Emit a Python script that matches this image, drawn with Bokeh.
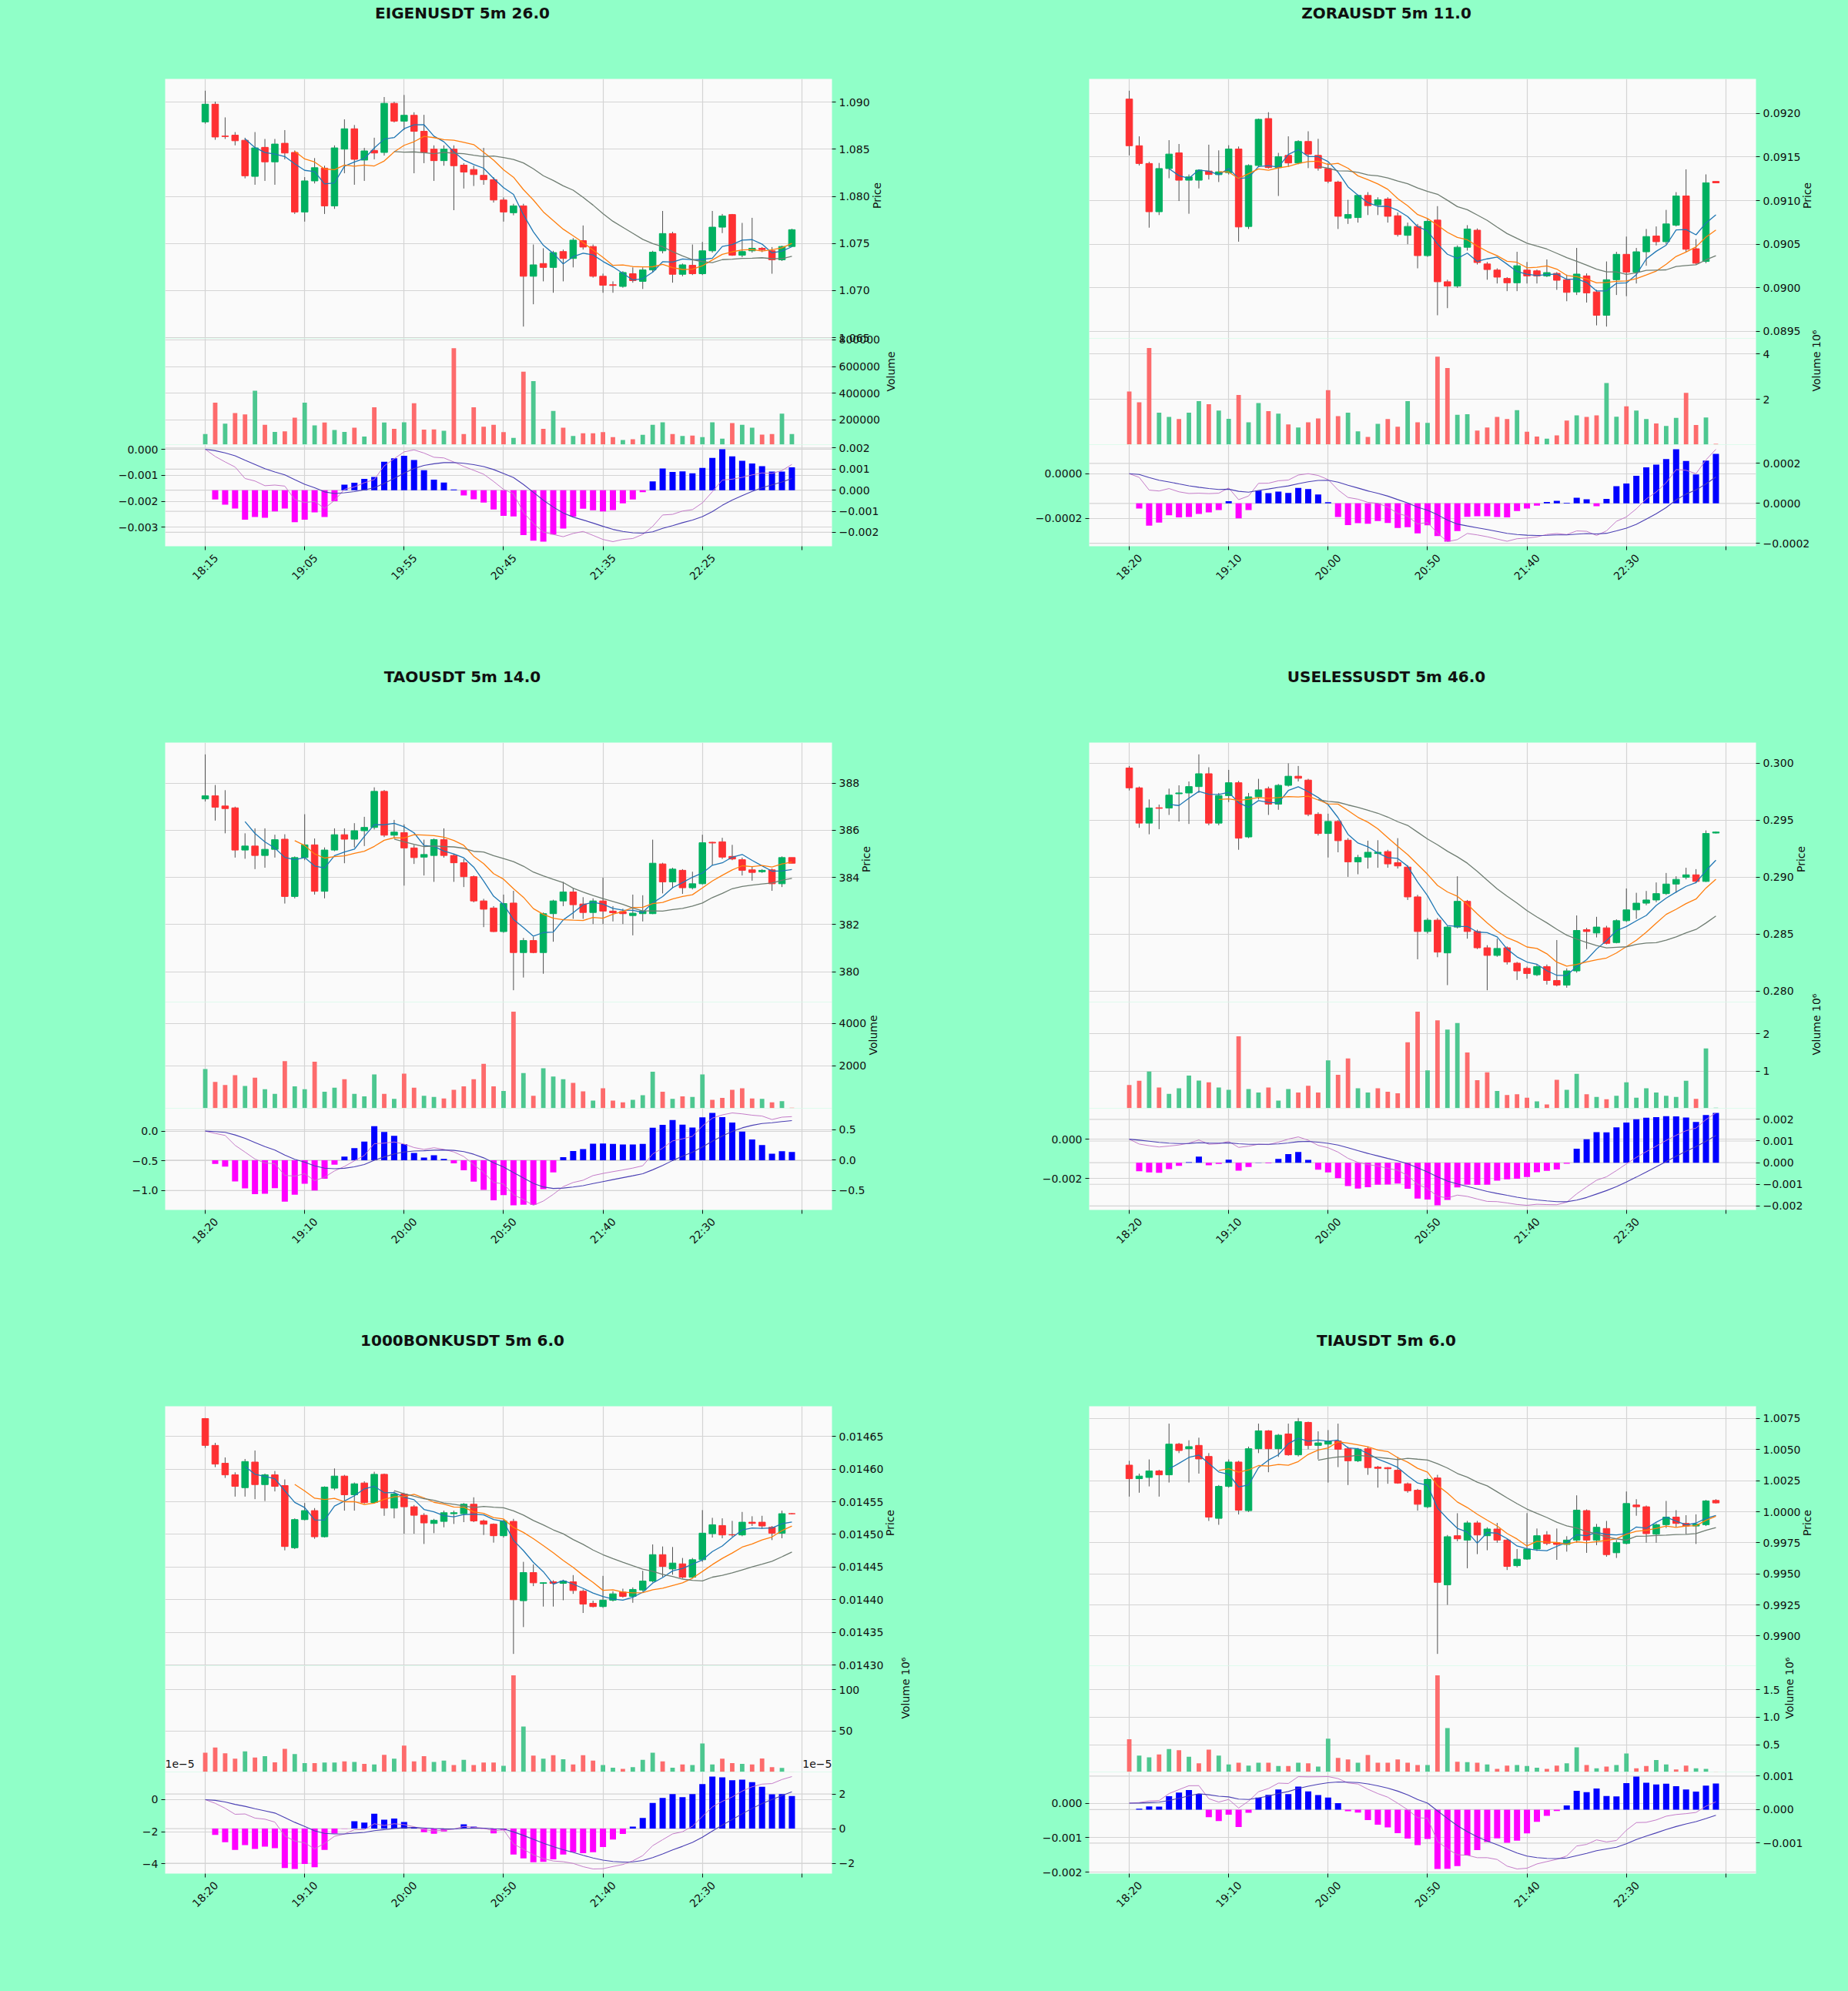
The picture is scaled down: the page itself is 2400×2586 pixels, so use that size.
import math
import numpy as np
import pandas as pd
from bokeh.plotting import figure
from bokeh.layouts import column, row
from bokeh.models import (Range1d, LinearAxis, FixedTicker, CustomJSTickFormatter,
                          Span, Label, ColumnDataSource)
from bokeh.core.properties import value
from bokeh.embed import file_html
from bokeh.resources import INLINE

# ------------------------------------------------------------------ data
TITLES = ["EIGENUSDT 5m 26.0", "ZORAUSDT 5m 11.0", "TAOUSDT 5m 14.0",
          "USELESSUSDT 5m 46.0", "1000BONKUSDT 5m 6.0", "TIAUSDT 5m 6.0"]

X_LABELS_EIGEN = ["18:15", "19:05", "19:55", "20:45", "21:35", "22:25", ""]
X_LABELS_OTHER = ["18:20", "19:10", "20:00", "20:50", "21:40", "22:30", ""]

EIGEN_OPEN = [1.08790, 1.08978, 1.08640, 1.08649, 1.08595, 1.08212, 1.08520, 1.08366, 1.08563, 1.08466,
              1.07834, 1.08164, 1.08299, 1.07899, 1.08501, 1.08717, 1.08385, 1.08487, 1.08466, 1.08987,
              1.08798, 1.08860, 1.08690, 1.08501, 1.08379, 1.08501, 1.08331, 1.08285, 1.08223, 1.08177,
              1.07961, 1.07826, 1.07899, 1.07152, 1.07287, 1.07246, 1.07414, 1.07341, 1.07530, 1.07468,
              1.07152, 1.07062, 1.07044, 1.07179, 1.07098, 1.07219, 1.07422, 1.07605, 1.07173, 1.07268,
              1.07179, 1.07422, 1.07673, 1.07807, 1.07376, 1.07422, 1.07449, 1.07422, 1.07327, 1.07468]
EIGEN_HIGH = [1.09121, 1.09005, 1.08838, 1.08682, 1.08622, 1.08682, 1.08609, 1.08609, 1.08703, 1.08487,
              1.08204, 1.08406, 1.08325, 1.08541, 1.08817, 1.08757, 1.08514, 1.08622, 1.09054, 1.09005,
              1.09076, 1.08892, 1.08865, 1.08541, 1.08541, 1.08541, 1.08352, 1.08325, 1.08514, 1.08204,
              1.07988, 1.07921, 1.07921, 1.07489, 1.07449, 1.07422, 1.07435, 1.07557, 1.07691, 1.07489,
              1.07180, 1.07098, 1.07206, 1.07246, 1.07246, 1.07422, 1.07845, 1.07624, 1.07287, 1.07489,
              1.07516, 1.07845, 1.07813, 1.07813, 1.07718, 1.07772, 1.07462, 1.07462, 1.07476, 1.07656]
EIGEN_LOW = [1.08771, 1.08600, 1.08609, 1.08541, 1.08191, 1.08123, 1.08164, 1.08123, 1.08393, 1.07813,
             1.07732, 1.08137, 1.07813, 1.07867, 1.08245, 1.08123, 1.08164, 1.08393, 1.08433, 1.08784,
             1.08703, 1.08245, 1.08352, 1.08164, 1.08325, 1.07853, 1.08083, 1.08110, 1.08123, 1.07934,
             1.07732, 1.07799, 1.06618, 1.06855, 1.07098, 1.06977, 1.07098, 1.07246, 1.07435, 1.07138,
             1.06977, 1.06977, 1.07030, 1.07084, 1.07017, 1.07192, 1.07395, 1.07084, 1.07152, 1.07165,
             1.07165, 1.07403, 1.07610, 1.07368, 1.07354, 1.07403, 1.07408, 1.07179, 1.07314, 1.07462]
EIGEN_CLOSE = [1.08978, 1.08630, 1.08635, 1.08590, 1.08218, 1.08514, 1.08366, 1.08555, 1.08460, 1.07834,
               1.08164, 1.08304, 1.07899, 1.08514, 1.08717, 1.08393, 1.08482, 1.08460, 1.08987, 1.08798,
               1.08860, 1.08690, 1.08466, 1.08379, 1.08501, 1.08325, 1.08258, 1.08231, 1.08177, 1.07961,
               1.07834, 1.07899, 1.07152, 1.07273, 1.07246, 1.07403, 1.07341, 1.07535, 1.07462, 1.07152,
               1.07057, 1.07055, 1.07192, 1.07106, 1.07219, 1.07408, 1.07605, 1.07173, 1.07273, 1.07179,
               1.07422, 1.07673, 1.07791, 1.07376, 1.07414, 1.07449, 1.07435, 1.07327, 1.07468, 1.07646]
EIGEN_VOLUME = [94000, 329000, 172000, 251000, 241000, 418000, 163000, 110000, 114000, 216000,
                329000, 159000, 180000, 124000, 110000, 141000, 75000, 294000, 180000, 133000,
                182000, 325000, 127000, 129000, 118000, 737000, 94000, 294000, 149000, 163000,
                108000, 65000, 561000, 490000, 133000, 267000, 141000, 80000, 100000, 100000,
                108000, 71000, 49000, 55000, 88000, 163000, 182000, 94000, 80000, 82000,
                71000, 182000, 59000, 176000, 163000, 141000, 90000, 94000, 247000, 94000]

ZORA_OPEN = [0.092166, 0.091630, 0.091426, 0.090872, 0.091368, 0.091548, 0.091234, 0.091234, 0.091339, 0.091298,
             0.091321, 0.091592, 0.090703, 0.091403, 0.091942, 0.091379, 0.091519, 0.091432, 0.091679, 0.091519,
             0.091368, 0.091213, 0.090799, 0.090805, 0.091059, 0.090951, 0.091018, 0.090826, 0.090601, 0.090703,
             0.090368, 0.090776, 0.090068, 0.090018, 0.090464, 0.090660, 0.090272, 0.090202, 0.090106, 0.090056,
             0.090202, 0.090193, 0.090135, 0.090164, 0.090091, 0.089951, 0.090135, 0.089951, 0.089683, 0.090091,
             0.090383, 0.090179, 0.090412, 0.090593, 0.090528, 0.090718, 0.091053, 0.090447, 0.090301, 0.091220]
ZORA_HIGH = [0.092262, 0.091738, 0.091446, 0.091432, 0.091694, 0.091650, 0.091300, 0.091359, 0.091642, 0.091577,
             0.091636, 0.091621, 0.091417, 0.091942, 0.092015, 0.091548, 0.091738, 0.091694, 0.091796, 0.091709,
             0.091432, 0.091228, 0.091009, 0.091068, 0.091097, 0.091038, 0.091038, 0.090864, 0.090747, 0.090732,
             0.090791, 0.090936, 0.090091, 0.090485, 0.090718, 0.090680, 0.090295, 0.090222, 0.090121, 0.090412,
             0.090295, 0.090208, 0.090324, 0.090179, 0.090150, 0.090456, 0.090164, 0.089975, 0.090301, 0.090412,
             0.090587, 0.090456, 0.090674, 0.090703, 0.090893, 0.091097, 0.091359, 0.090558, 0.091301, 0.091220]
ZORA_LOW = [0.091519, 0.091403, 0.090689, 0.090834, 0.091257, 0.090995, 0.090849, 0.091140, 0.091242, 0.091213,
            0.091300, 0.090528, 0.090674, 0.091388, 0.091368, 0.091053, 0.091388, 0.091417, 0.091373, 0.091344,
            0.091199, 0.090674, 0.090732, 0.090747, 0.090834, 0.090834, 0.090747, 0.090587, 0.090499, 0.090222,
            0.090354, 0.089683, 0.089765, 0.089998, 0.090426, 0.090266, 0.090091, 0.090048, 0.089960, 0.089960,
            0.090048, 0.090048, 0.090121, 0.089975, 0.089844, 0.089916, 0.089829, 0.089567, 0.089553, 0.089916,
            0.089902, 0.090048, 0.090252, 0.090485, 0.090499, 0.090703, 0.090412, 0.090266, 0.090281, 0.091204]
ZORA_CLOSE = [0.091630, 0.091426, 0.090872, 0.091368, 0.091534, 0.091234, 0.091272, 0.091350, 0.091300, 0.091330,
              0.091592, 0.090697, 0.091403, 0.091933, 0.091379, 0.091505, 0.091432, 0.091679, 0.091534, 0.091373,
              0.091222, 0.090820, 0.090840, 0.091059, 0.090942, 0.091009, 0.090820, 0.090610, 0.090703, 0.090368,
              0.090762, 0.090068, 0.090018, 0.090464, 0.090674, 0.090289, 0.090208, 0.090121, 0.090056, 0.090252,
              0.090135, 0.090135, 0.090173, 0.090085, 0.089946, 0.090156, 0.089940, 0.089683, 0.090091, 0.090383,
              0.090179, 0.090412, 0.090587, 0.090528, 0.090732, 0.091053, 0.090441, 0.090281, 0.091204, 0.091204]
ZORA_VOLUME_M = [2.35, 1.88, 4.26, 1.42, 1.23, 1.14, 1.42, 1.93, 1.79, 1.51,
                 1.15, 2.20, 1.00, 1.84, 1.49, 1.38, 0.90, 0.77, 1.00, 1.17,
                 2.41, 1.27, 1.42, 0.60, 0.35, 0.93, 1.14, 0.80, 1.93, 1.00,
                 0.97, 3.88, 3.38, 1.33, 1.35, 0.63, 0.77, 1.23, 1.14, 1.53,
                 0.58, 0.37, 0.28, 0.42, 1.07, 1.30, 1.23, 1.30, 2.72, 1.24,
                 1.70, 1.51, 1.14, 0.95, 0.84, 1.19, 2.29, 0.88, 1.21, 0.05]

TAO_OPEN = [387.33, 387.46, 387.03, 386.95, 385.16, 385.33, 384.93, 385.19, 385.62, 383.19,
            384.84, 385.38, 383.41, 385.16, 385.81, 385.62, 385.98, 386.12, 387.65, 385.79,
            385.90, 385.25, 384.86, 384.93, 385.60, 384.93, 384.62, 384.03, 383.00, 382.70,
            381.70, 382.91, 380.81, 381.32, 380.81, 382.46, 383.00, 383.38, 382.87, 382.51,
            383.00, 382.57, 382.55, 382.38, 382.46, 382.46, 384.57, 383.81, 384.30, 383.56,
            383.73, 385.49, 385.51, 384.89, 384.75, 384.32, 384.24, 384.32, 383.73, 384.84]
TAO_HIGH = [389.22, 387.92, 387.70, 387.00, 385.87, 386.08, 386.08, 385.81, 385.83, 384.89,
            386.68, 385.65, 385.27, 386.08, 386.08, 386.30, 386.57, 387.82, 387.71, 386.44,
            386.25, 385.38, 385.60, 385.65, 386.08, 385.00, 384.78, 384.08, 383.09, 382.78,
            383.27, 383.43, 381.43, 381.48, 382.51, 383.05, 383.81, 383.54, 383.16, 383.11,
            383.99, 382.78, 382.67, 383.27, 383.24, 385.60, 384.62, 384.41, 384.35, 384.24,
            385.81, 385.51, 385.68, 385.38, 384.84, 384.46, 384.35, 384.38, 384.89, 384.84]
TAO_LOW = [387.22, 386.41, 385.87, 384.84, 384.79, 384.35, 384.41, 384.84, 382.89, 383.11,
           384.73, 383.27, 383.11, 385.11, 384.60, 385.27, 385.33, 386.03, 385.71, 385.65,
           383.65, 384.57, 384.08, 383.81, 384.84, 383.81, 383.59, 382.94, 381.89, 381.68,
           381.65, 379.21, 379.75, 380.78, 379.91, 381.27, 382.78, 382.24, 382.24, 382.02,
           382.02, 382.13, 382.02, 381.54, 382.13, 382.44, 383.32, 383.54, 383.30, 383.49,
           383.70, 384.51, 384.78, 384.73, 384.08, 383.86, 384.19, 383.43, 383.59, 384.60]
TAO_CLOSE = [387.46, 386.98, 386.92, 385.16, 385.33, 384.93, 385.19, 385.60, 383.19, 384.84,
             385.38, 383.41, 385.16, 385.81, 385.62, 385.98, 386.12, 387.65, 385.79, 385.92,
             385.25, 384.84, 384.97, 385.60, 384.93, 384.62, 384.03, 383.00, 382.65, 381.70,
             382.89, 380.81, 381.32, 380.81, 382.46, 383.00, 383.38, 382.84, 382.51, 383.00,
             382.57, 382.50, 382.46, 382.48, 382.57, 384.60, 383.81, 384.35, 383.56, 383.73,
             385.47, 385.46, 384.86, 384.78, 384.30, 384.21, 384.30, 383.73, 384.84, 384.60]
TAO_VOLUME = [1850, 1250, 1100, 1560, 1060, 1450, 910, 690, 2220, 1040,
              910, 2200, 790, 975, 1375, 690, 575, 1600, 690, 450,
              1640, 975, 600, 540, 475, 875, 1040, 1375, 2100, 1040,
              825, 4540, 1660, 600, 1890, 1500, 1375, 1200, 810, 375,
              950, 375, 290, 410, 625, 1725, 790, 450, 575, 540,
              1600, 410, 500, 875, 950, 475, 450, 290, 350, 40]

USELESS_OPEN = [0.29959, 0.29785, 0.29475, 0.29610, 0.29608, 0.29733, 0.29740, 0.29796, 0.29909, 0.29475,
                0.29717, 0.29830, 0.29354, 0.29706, 0.29778, 0.29642, 0.29807, 0.29887, 0.29853, 0.29552,
                0.29384, 0.29490, 0.29325, 0.29135, 0.29176, 0.29208, 0.29225, 0.29128, 0.29089, 0.28827,
                0.28523, 0.28623, 0.28335, 0.28562, 0.28788, 0.28523, 0.28380, 0.28313, 0.28380, 0.28245,
                0.28199, 0.28143, 0.28215, 0.28093, 0.28052, 0.28177, 0.28539, 0.28510, 0.28555, 0.28426,
                0.28618, 0.28713, 0.28772, 0.28800, 0.28856, 0.28940, 0.28999, 0.29021, 0.28963, 0.29388]
USELESS_HIGH = [0.29977, 0.29796, 0.29683, 0.29638, 0.29778, 0.29807, 0.29841, 0.30079, 0.29966, 0.29740,
                0.29943, 0.29846, 0.29740, 0.29864, 0.29796, 0.29819, 0.30000, 0.29977, 0.29864, 0.29570,
                0.29558, 0.29502, 0.29343, 0.29196, 0.29321, 0.29325, 0.29241, 0.29343, 0.29105, 0.28845,
                0.28641, 0.28641, 0.28573, 0.29008, 0.28800, 0.28539, 0.28403, 0.28460, 0.28392, 0.28256,
                0.28215, 0.28233, 0.28233, 0.28448, 0.28199, 0.28664, 0.28555, 0.28652, 0.28573, 0.28630,
                0.28901, 0.28863, 0.28879, 0.28954, 0.29037, 0.29008, 0.29083, 0.29071, 0.29411, 0.29402]
USELESS_LOW = [0.29762, 0.29434, 0.29377, 0.29422, 0.29547, 0.29490, 0.29468, 0.29740, 0.29456, 0.29456,
               0.29660, 0.29241, 0.29343, 0.29683, 0.29547, 0.29592, 0.29796, 0.29841, 0.29536, 0.29366,
               0.29173, 0.29219, 0.29003, 0.29026, 0.29076, 0.29083, 0.29083, 0.29076, 0.28800, 0.28279,
               0.28505, 0.28297, 0.28052, 0.28550, 0.28460, 0.28369, 0.28007, 0.28301, 0.28233, 0.28097,
               0.28109, 0.28131, 0.28057, 0.28041, 0.28029, 0.28161, 0.28369, 0.28471, 0.28410, 0.28419,
               0.28607, 0.28634, 0.28754, 0.28781, 0.28845, 0.28863, 0.28981, 0.28947, 0.28958, 0.29384]
USELESS_CLOSE = [0.29785, 0.29475, 0.29608, 0.29605, 0.29721, 0.29740, 0.29796, 0.29909, 0.29475, 0.29717,
                 0.29830, 0.29343, 0.29706, 0.29767, 0.29642, 0.29807, 0.29887, 0.29869, 0.29552, 0.29384,
                 0.29490, 0.29321, 0.29135, 0.29173, 0.29219, 0.29219, 0.29117, 0.29099, 0.28827, 0.28523,
                 0.28623, 0.28342, 0.28562, 0.28788, 0.28523, 0.28380, 0.28313, 0.28374, 0.28256, 0.28177,
                 0.28154, 0.28215, 0.28093, 0.28052, 0.28177, 0.28532, 0.28523, 0.28562, 0.28419, 0.28618,
                 0.28713, 0.28772, 0.28800, 0.28856, 0.28940, 0.28981, 0.29021, 0.28963, 0.29384, 0.29397]
USELESS_VOLUME_M = [0.63, 0.74, 0.99, 0.56, 0.39, 0.54, 0.88, 0.75, 0.70, 0.56,
                    0.50, 1.93, 0.52, 0.43, 0.56, 0.21, 0.52, 0.43, 0.61, 0.43,
                    1.29, 0.90, 1.34, 0.54, 0.43, 0.54, 0.45, 0.41, 1.77, 2.59,
                    1.02, 2.36, 2.11, 2.29, 1.50, 0.76, 0.97, 0.47, 0.36, 0.38,
                    0.29, 0.19, 0.11, 0.77, 0.50, 0.93, 0.38, 0.31, 0.25, 0.34,
                    0.70, 0.29, 0.54, 0.43, 0.34, 0.31, 0.74, 0.26, 1.61, 0.02]

BONK_OPEN = [0.0146774, 0.0146363, 0.0146089, 0.0145912, 0.0145716, 0.0146108, 0.0145763, 0.0145912, 0.0145748, 0.0144796,
             0.0145227, 0.0145364, 0.0144964, 0.0145708, 0.0145893, 0.0145607, 0.0145787, 0.0145489, 0.0145920, 0.0145403,
             0.0145618, 0.0145423, 0.0145293, 0.0145168, 0.0145199, 0.0145317, 0.0145317, 0.0145462, 0.0145207, 0.0145156,
             0.0144980, 0.0145199, 0.0143985, 0.0144416, 0.0144250, 0.0144275, 0.0144251, 0.0144275, 0.0144130, 0.0143945,
             0.0143895, 0.0143993, 0.0144118, 0.0144051, 0.0144149, 0.0144286, 0.0144690, 0.0144471, 0.0144549, 0.0144345,
             0.0144612, 0.0145011, 0.0145136, 0.0144995, 0.0144992, 0.0145187, 0.0145187, 0.0145109, 0.0145019, 0.0145317]
BONK_HIGH = [0.0146782, 0.0146402, 0.0146179, 0.0145951, 0.0146155, 0.0146285, 0.0145932, 0.0145971, 0.0145842, 0.0145246,
             0.0145481, 0.0145403, 0.0145736, 0.0146010, 0.0145912, 0.0145795, 0.0145814, 0.0145959, 0.0145932, 0.0145658,
             0.0145638, 0.0145450, 0.0145325, 0.0145238, 0.0145364, 0.0145364, 0.0145481, 0.0145568, 0.0145227, 0.0145168,
             0.0145227, 0.0145238, 0.0144580, 0.0144541, 0.0144267, 0.0144298, 0.0144306, 0.0144377, 0.0144157, 0.0143985,
             0.0144365, 0.0144130, 0.0144169, 0.0144188, 0.0144443, 0.0144847, 0.0144815, 0.0144807, 0.0144639, 0.0144639,
             0.0145372, 0.0145254, 0.0145246, 0.0145207, 0.0145344, 0.0145278, 0.0145285, 0.0145129, 0.0145364, 0.0145325]
BONK_LOW = [0.0146324, 0.0146030, 0.0145865, 0.0145579, 0.0145579, 0.0145540, 0.0145512, 0.0145658, 0.0144756, 0.0144776,
            0.0145215, 0.0144933, 0.0144952, 0.0145677, 0.0145364, 0.0145364, 0.0145473, 0.0145473, 0.0145285, 0.0145246,
            0.0145011, 0.0145011, 0.0144854, 0.0145019, 0.0145109, 0.0145160, 0.0145188, 0.0145188, 0.0144992, 0.0144874,
            0.0144952, 0.0143170, 0.0143581, 0.0144208, 0.0143895, 0.0143895, 0.0143992, 0.0144090, 0.0143797, 0.0143883,
            0.0143875, 0.0143973, 0.0144032, 0.0143953, 0.0144130, 0.0144267, 0.0144345, 0.0144384, 0.0144325, 0.0144325,
            0.0144580, 0.0144952, 0.0144941, 0.0144964, 0.0144972, 0.0145129, 0.0145089, 0.0144913, 0.0144941, 0.0145310]
BONK_CLOSE = [0.0146363, 0.0146077, 0.0145912, 0.0145736, 0.0146116, 0.0145763, 0.0145912, 0.0145736, 0.0144815, 0.0145227,
              0.0145364, 0.0144964, 0.0145724, 0.0145893, 0.0145607, 0.0145775, 0.0145489, 0.0145920, 0.0145403, 0.0145618,
              0.0145423, 0.0145293, 0.0145176, 0.0145215, 0.0145332, 0.0145332, 0.0145462, 0.0145207, 0.0145156, 0.0144980,
              0.0145207, 0.0144000, 0.0144416, 0.0144259, 0.0144260, 0.0144250, 0.0144286, 0.0144141, 0.0143934, 0.0143895,
              0.0143993, 0.0144090, 0.0144051, 0.0144157, 0.0144286, 0.0144690, 0.0144510, 0.0144561, 0.0144345, 0.0144612,
              0.0145019, 0.0145148, 0.0144992, 0.0144992, 0.0145187, 0.0145168, 0.0145129, 0.0145019, 0.0145317, 0.0145317]
BONK_VOLUME_M = [23.6, 29.9, 22.9, 16.2, 25.2, 17.8, 19.4, 11.8, 28.3, 22.0,
                 10.8, 10.8, 11.5, 11.5, 13.1, 12.4, 9.9, 9.2, 21.0, 16.2,
                 32.2, 13.1, 19.4, 12.4, 14.0, 8.6, 15.0, 8.6, 11.5, 11.5,
                 7.6, 117.5, 55.4, 20.1, 16.2, 20.4, 15.6, 9.2, 20.4, 14.0,
                 8.6, 5.4, 3.8, 6.1, 15.0, 23.6, 13.1, 5.4, 9.2, 8.6,
                 34.7, 9.2, 16.2, 10.8, 9.9, 9.2, 16.6, 6.1, 5.1, 0.5]

TIA_OPEN = [1.00375, 1.00266, 1.00276, 1.00328, 1.00297, 1.00544, 1.00507, 1.00534, 1.00445, 0.99947,
            1.00204, 1.00400, 1.00009, 1.00507, 1.00651, 1.00507, 1.00626, 1.00458, 1.00719, 1.00534,
            1.00544, 1.00569, 1.00507, 1.00410, 1.00507, 1.00359, 1.00355, 1.00334, 1.00225, 1.00173,
            1.00040, 1.00272, 0.99412, 0.99807, 0.99772, 0.99910, 0.99807, 0.99861, 0.99772, 0.99566,
            0.99619, 0.99700, 0.99813, 0.99751, 0.99737, 0.99772, 1.00009, 0.99772, 0.99865, 0.99670,
            0.99745, 1.00054, 1.00040, 0.99820, 0.99896, 0.99957, 0.99906, 0.99885, 0.99896, 1.00091]
TIA_HIGH = [1.00410, 1.00307, 1.00421, 1.00338, 1.00709, 1.00554, 1.00575, 1.00596, 1.00472, 1.00215,
            1.00421, 1.00410, 1.00524, 1.00709, 1.00657, 1.00626, 1.00709, 1.00754, 1.00725, 1.00647,
            1.00657, 1.00709, 1.00524, 1.00513, 1.00524, 1.00369, 1.00359, 1.00441, 1.00235, 1.00184,
            1.00272, 1.00297, 0.99813, 0.99988, 0.99926, 0.99926, 0.99875, 0.99910, 0.99782, 0.99700,
            0.99989, 0.99865, 0.99844, 0.99865, 0.99803, 1.00132, 1.00019, 0.99902, 0.99926, 0.99772,
            1.00163, 1.00101, 1.00050, 0.99906, 1.00087, 1.00013, 0.99972, 0.99979, 1.00095, 1.00101]
TIA_LOW = [1.00122, 1.00153, 1.00204, 1.00122, 1.00235, 1.00472, 1.00235, 1.00307, 0.99926, 0.99895,
           1.00194, 0.99978, 0.99998, 1.00472, 1.00318, 1.00441, 1.00451, 1.00445, 1.00503, 1.00421,
           1.00235, 1.00359, 1.00215, 1.00400, 1.00297, 1.00194, 1.00225, 1.00225, 1.00153, 1.00009,
           1.00029, 0.98856, 0.99251, 0.99762, 0.99545, 0.99659, 0.99690, 0.99751, 0.99531, 0.99552,
           0.99613, 0.99684, 0.99731, 0.99613, 0.99679, 0.99751, 0.99669, 0.99731, 0.99638, 0.99628,
           0.99737, 0.99968, 0.99751, 0.99751, 0.99869, 0.99875, 0.99819, 0.99741, 0.99885, 1.00066]
TIA_CLOSE = [1.00266, 1.00287, 1.00328, 1.00297, 1.00544, 1.00493, 1.00524, 1.00425, 0.99957, 1.00204,
             1.00400, 1.00013, 1.00507, 1.00651, 1.00507, 1.00616, 1.00458, 1.00725, 1.00534, 1.00554,
             1.00569, 1.00503, 1.00410, 1.00503, 1.00355, 1.00349, 1.00346, 1.00231, 1.00169, 1.00060,
             1.00260, 0.99432, 0.99799, 0.99782, 0.99910, 0.99813, 0.99861, 0.99772, 0.99560, 0.99618,
             0.99700, 0.99807, 0.99745, 0.99737, 0.99772, 1.00013, 0.99772, 0.99875, 0.99655, 0.99751,
             1.00066, 1.00040, 0.99824, 0.99896, 0.99957, 0.99906, 0.99885, 0.99900, 1.00087, 1.00071]
TIA_VOLUME_M = [0.60, 0.30, 0.27, 0.32, 0.42, 0.40, 0.28, 0.16, 0.41, 0.30,
                0.14, 0.17, 0.12, 0.17, 0.17, 0.11, 0.11, 0.17, 0.16, 0.10,
                0.61, 0.26, 0.23, 0.17, 0.31, 0.17, 0.17, 0.23, 0.17, 0.13,
                0.13, 1.76, 0.80, 0.19, 0.18, 0.17, 0.14, 0.06, 0.12, 0.13,
                0.11, 0.08, 0.06, 0.12, 0.16, 0.45, 0.13, 0.07, 0.10, 0.13,
                0.34, 0.07, 0.11, 0.22, 0.14, 0.05, 0.12, 0.07, 0.06, 0.01]

# ------------------------------------------------------------------ style
BG = "#90ffc8"
FACE = "#fafafa"
GRID = "#d4d4d4"
UP, DOWN, WICK = "#00b060", "#fe3032", "#505050"
VUP, VDOWN = "#4dc790", "#fd6b6c"
MA_COLORS = ["#1f77b4", "#ff7f0e", "#6f7d72"]
MACD_COLOR, SIGNAL_COLOR = "#c47cc8", "#4a3fb3"
HIST_UP, HIST_DOWN = "#0000ff", "#ff00ff"
FONT = "DejaVu Sans"
TXT = "#101010"

CHARTS = [
    dict(title=TITLES[0], o=EIGEN_OPEN, h=EIGEN_HIGH, l=EIGEN_LOW, c=EIGEN_CLOSE, v=EIGEN_VOLUME,
         xl=X_LABELS_EIGEN, ps=0.005, pd=3, vs=200000, vd=0, vlab="Volume", vls=11,
         ls=0.001, ld=3, rs=0.001, rd=3, sc=1.0, off=None),
    dict(title=TITLES[1], o=ZORA_OPEN, h=ZORA_HIGH, l=ZORA_LOW, c=ZORA_CLOSE, v=ZORA_VOLUME_M,
         xl=X_LABELS_OTHER, ps=0.0005, pd=4, vs=2, vd=0, vlab="Volume  10\u2076", vls=58,
         ls=0.0002, ld=4, rs=0.0002, rd=4, sc=1.0, off=None),
    dict(title=TITLES[2], o=TAO_OPEN, h=TAO_HIGH, l=TAO_LOW, c=TAO_CLOSE, v=TAO_VOLUME,
         xl=X_LABELS_OTHER, ps=2, pd=0, vs=2000, vd=0, vlab="Volume", vls=6,
         ls=0.5, ld=1, rs=0.5, rd=1, sc=1.0, off=None),
    dict(title=TITLES[3], o=USELESS_OPEN, h=USELESS_HIGH, l=USELESS_LOW, c=USELESS_CLOSE, v=USELESS_VOLUME_M,
         xl=X_LABELS_OTHER, ps=0.005, pd=3, vs=1, vd=0, vlab="Volume  10\u2076", vls=58,
         ls=0.002, ld=3, rs=0.001, rd=3, sc=1.0, off=None),
    dict(title=TITLES[4], o=BONK_OPEN, h=BONK_HIGH, l=BONK_LOW, c=BONK_CLOSE, v=BONK_VOLUME_M,
         xl=X_LABELS_OTHER, ps=0.00005, pd=5, vs=50, vd=0, vlab="Volume  10\u2076", vls=57,
         ls=2e-5, ld=0, rs=2e-5, rd=0, sc=1e-5, off="1e\u22125"),
    dict(title=TITLES[5], o=TIA_OPEN, h=TIA_HIGH, l=TIA_LOW, c=TIA_CLOSE, v=TIA_VOLUME_M,
         xl=X_LABELS_OTHER, ps=0.0025, pd=4, vs=0.5, vd=1, vlab="Volume  10\u2076", vls=9,
         ls=0.001, ld=3, rs=0.001, rd=3, sc=1.0, off=None),
]

# page geometry (pixels)
FRAME_W = 866
PRICE_H, VOL_H, MACD_H = 337, 138, 132
HEAD_H = 92        # title strip; price frame starts 10px lower (page y 102)
PAD = 10           # transparent overlap so edge labels are not cut
ROW_H = 862
TITLE_Y = 16       # title centre, from the top of the chart block
TITLE_DX = 386     # title centre, right of the frame's left edge
XLAB_Y = 27        # x tick label centre, below the MACD frame


def ticks_between(lo, hi, step, positive_only=False):
    k0 = math.ceil(lo / step - 1e-9)
    k1 = math.floor(hi / step + 1e-9)
    out = []
    for k in range(k0, k1 + 1):
        if positive_only and k <= 0:
            continue
        out.append(round(k * step, 12))
    return out


def fmt(dec, scale=1.0):
    return CustomJSTickFormatter(args=dict(dec=dec, scale=scale), code="""
        const v = tick / scale;
        const a = Math.abs(v);
        if (a < 1e-12) { return (0).toFixed(dec); }
        return (v < 0 ? "\\u2212" : "") + a.toFixed(dec);
    """)


def style_axis(ax, label_up=False, label_standoff=6):
    ax.axis_line_color = None
    ax.major_tick_line_color = TXT
    ax.major_tick_out = 5
    ax.major_tick_in = 0
    ax.minor_tick_line_color = None
    ax.major_label_text_font = FONT
    ax.major_label_text_font_size = "14px"
    ax.major_label_text_color = TXT
    ax.major_label_standoff = 4
    ax.axis_label_text_font = FONT
    ax.axis_label_text_font_size = "14px"
    ax.axis_label_text_font_style = "normal"
    ax.axis_label_text_color = TXT
    ax.axis_label_standoff = label_standoff
    if label_up:
        try:
            ax.axis_label_orientation = math.pi / 2
        except Exception:
            pass


def style_grid(p, xt, yt):
    p.xgrid.ticker = FixedTicker(ticks=xt)
    p.ygrid.ticker = FixedTicker(ticks=yt)
    for g in (p.xgrid, p.ygrid):
        g.grid_line_color = GRID
        g.grid_line_width = 1.2


def blank_fig(W, H, xr, yr, ml, mr, margin=None):
    kw = dict(width=W, height=H, x_range=xr, y_range=yr, output_backend="svg",
              toolbar_location=None, x_axis_location=None, y_axis_location=None,
              min_border_left=ml, min_border_right=mr, min_border_top=0, min_border_bottom=0,
              background_fill_color=None, background_fill_alpha=0,
              border_fill_color=None, border_fill_alpha=0, outline_line_color=None)
    if margin is not None:
        kw["margin"] = margin
    p = figure(**kw)
    p.xgrid.visible = False
    p.ygrid.visible = False
    return p


def make_chart(spec, col, last_row):
    o = np.array(spec["o"], dtype=float)
    h = np.array(spec["h"], dtype=float)
    l = np.array(spec["l"], dtype=float)
    c = np.array(spec["c"], dtype=float)
    v = np.array(spec["v"], dtype=float)
    n = len(c)
    assert len(o) == n and len(h) == n and len(l) == n and len(v) == n, spec["title"]
    x = np.arange(n)

    avg = (n - 1) / n
    lo0, hi0 = -avg, (n - 1) + avg
    sp = hi0 - lo0
    xr = Range1d(lo0 - 0.05 * sp, hi0 + 0.05 * sp)
    xt = list(range(0, n + 1, 10))

    W = 1200 if col == 0 else 1192
    ML = 214
    MR = W - ML - FRAME_W

    # ---------------- title strip (same frame as the panels)
    head = blank_fig(W, HEAD_H, xr, Range1d(0, HEAD_H), ML, MR)
    tx = xr.start + TITLE_DX / FRAME_W * (xr.end - xr.start)
    head.text(x=[tx], y=[HEAD_H - TITLE_Y], text=[spec["title"]], text_font=value(FONT),
              text_font_size="20px", text_font_style="bold", text_color=TXT,
              text_align="center", text_baseline="middle")

    common = dict(output_backend="svg", toolbar_location=None, background_fill_color=FACE,
                  border_fill_color=None, border_fill_alpha=0, outline_line_color=None,
                  min_border_left=ML, min_border_right=MR, x_range=xr, width=W)

    # ---------------- price panel
    plo, phi = l.min(), h.max()
    pspan = phi - plo
    prange = Range1d(plo - 0.05 * pspan, phi + 0.05 * pspan)
    price = figure(height=PAD + PRICE_H + PAD, y_range=prange, x_axis_location=None,
                   y_axis_location="right", min_border_top=PAD, min_border_bottom=PAD, **common)
    pt = ticks_between(prange.start, prange.end, spec["ps"])
    style_axis(price.yaxis[0], label_up=True)
    price.yaxis[0].ticker = FixedTicker(ticks=pt)
    price.yaxis[0].formatter = fmt(spec["pd"])
    price.yaxis[0].axis_label = "Price"
    style_grid(price, xt, pt)

    up = c > o
    src = ColumnDataSource(dict(x=x, h=h, l=l, top=np.maximum(o, c), bot=np.minimum(o, c),
                                col=np.where(up, UP, DOWN)))
    price.segment(x0="x", y0="h", x1="x", y1="l", source=src, line_color=WICK, line_width=1)
    price.vbar(x="x", width=0.66, top="top", bottom="bot", source=src,
               fill_color="col", line_color="col", line_width=1)
    cs = pd.Series(c)
    for win, colr in zip((5, 10, 20), MA_COLORS):
        ma = cs.rolling(win).mean().to_numpy()
        price.line(x, ma, line_color=colr, line_width=1.3)

    # ---------------- volume panel
    vlo, vhi = 0.3 * v.min(), 1.1 * v.max()
    vrange = Range1d(vlo, vhi)
    vol = figure(height=PAD + VOL_H + PAD, y_range=vrange, x_axis_location=None,
                 y_axis_location="right", min_border_top=PAD, min_border_bottom=PAD,
                 margin=(-2 * PAD, 0, 0, 0), **common)
    vt = ticks_between(vlo, vhi, spec["vs"], positive_only=True)
    style_axis(vol.yaxis[0], label_up=True, label_standoff=spec["vls"])
    vol.yaxis[0].ticker = FixedTicker(ticks=vt)
    vol.yaxis[0].formatter = fmt(spec["vd"])
    vol.yaxis[0].axis_label = spec["vlab"]
    style_grid(vol, xt, vt)
    vup = [o[0] < c[0]] + [c[i] > c[i - 1] for i in range(1, n)]
    vsrc = ColumnDataSource(dict(x=x, v=v, col=[VUP if u else VDOWN for u in vup]))
    vol.vbar(x="x", width=0.45, top="v", bottom=0, source=vsrc, fill_color="col", line_color=None)
    if spec["off"]:
        yy = vlo + (vhi - vlo) * 11.0 / VOL_H
        for xx, al in ((xr.start, "left"), (xr.end, "right")):
            vol.add_layout(Label(x=xx, y=yy, text=spec["off"], text_align=al, text_baseline="middle",
                                 text_font=FONT, text_font_size="14px", text_color=TXT))

    # ---------------- MACD panel (histogram = 2 * (DIF - DEA))
    ema12 = cs.ewm(span=12, adjust=False).mean()
    ema26 = cs.ewm(span=26, adjust=False).mean()
    macd = (ema12 - ema26).to_numpy()
    sig = pd.Series(macd).ewm(span=9, adjust=False).mean().to_numpy()
    hist = 2.0 * (macd - sig)
    llo, lhi = min(macd.min(), sig.min()), max(macd.max(), sig.max())
    lsp = lhi - llo
    lrange = Range1d(llo - 0.05 * lsp, lhi + 0.05 * lsp)
    hlo, hhi = min(hist.min(), 0.0), max(hist.max(), 0.0)
    hsp = hhi - hlo
    hrange = Range1d(hlo - 0.05 * hsp, hhi + 0.05 * hsp)
    MB = 16
    mp = figure(height=PAD + MACD_H + MB, y_range=lrange, x_axis_location="below",
                y_axis_location="left", min_border_top=PAD, min_border_bottom=MB,
                margin=(-2 * PAD, 0, 0, 0), **common)
    mp.extra_y_ranges = {"hist": hrange}
    lt = ticks_between(lrange.start, lrange.end, spec["ls"])
    rt = ticks_between(hrange.start, hrange.end, spec["rs"])
    style_axis(mp.yaxis[0])
    mp.yaxis[0].ticker = FixedTicker(ticks=lt)
    mp.yaxis[0].formatter = fmt(spec["ld"], spec["sc"])
    rax = LinearAxis(y_range_name="hist", ticker=FixedTicker(ticks=rt), formatter=fmt(spec["rd"], spec["sc"]))
    style_axis(rax)
    mp.add_layout(rax, "right")
    style_axis(mp.xaxis[0])
    mp.xaxis[0].ticker = FixedTicker(ticks=xt)
    mp.xaxis[0].major_label_overrides = {t: "" for t in xt}
    style_grid(mp, xt, lt)
    for t in rt:
        mp.add_layout(Span(location=t, dimension="width", y_range_name="hist",
                           line_color=GRID, line_width=1.2, level="underlay"))
    hsrc = ColumnDataSource(dict(x=x, hv=hist, col=[HIST_UP if hv >= 0 else HIST_DOWN for hv in hist]))
    mp.vbar(x="x", width=0.62, top="hv", bottom=0, source=hsrc, fill_color="col",
            line_color=None, y_range_name="hist")
    mp.line(x, macd, line_color=MACD_COLOR, line_width=1.0)
    mp.line(x, sig, line_color=SIGNAL_COLOR, line_width=1.1)

    # ---------------- time labels (centred under the ticks, rotated 45 degrees)
    used = HEAD_H + (PAD + PRICE_H + PAD) + VOL_H + (PAD + MACD_H + MB - 2 * PAD) - MB
    FH = 80 if last_row else ROW_H - used
    foot = blank_fig(W, FH, xr, Range1d(0, FH), ML, MR, margin=(-MB, 0, 0, 0))
    lab_x = [t for t, s in zip(xt, spec["xl"]) if s]
    lab_t = [s for s in spec["xl"] if s]
    foot.text(x=lab_x, y=[FH - XLAB_Y] * len(lab_x), text=lab_t, angle=math.pi / 4,
              text_font=value(FONT), text_font_size="14px", text_color=TXT,
              text_align="center", text_baseline="middle")

    return column(head, price, vol, mp, foot)


rows = []
for r in range(3):
    cells = [make_chart(CHARTS[r * 2 + cc], cc, r == 2) for cc in range(2)]
    rows.append(row(*cells))
layout = column(*rows)

html = file_html(layout, INLINE, title="charts")
html = html.replace("<head>", "<head><style>html,body{background:%s;}</style>" % BG, 1)
open("out.html", "w").write(html)
